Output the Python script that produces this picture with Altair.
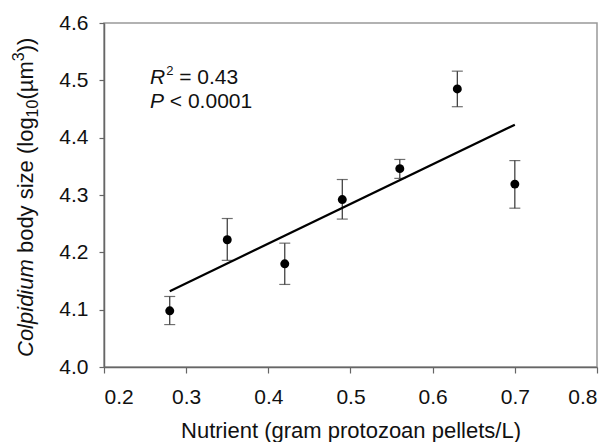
import altair as alt
import pandas as pd

# ---- data ----
nutrient = [0.28, 0.35, 0.42, 0.49, 0.56, 0.63, 0.70]
body_size = [4.098, 4.222, 4.180, 4.292, 4.346, 4.485, 4.319]
err_low = [4.074, 4.186, 4.144, 4.258, 4.329, 4.454, 4.277]
err_high = [4.123, 4.259, 4.216, 4.327, 4.362, 4.516, 4.360]

x_ticks = [0.2, 0.3, 0.4, 0.5, 0.6, 0.7, 0.8]
y_ticks = [4.0, 4.1, 4.2, 4.3, 4.4, 4.5, 4.6]

x_title = "Nutrient (gram protozoan pellets/L)"
# y-axis title segments: (text, role)
y_title_parts = [("Colpidium", "italic"), (" body size (log", "normal"),
                 ("10", "sub"), ("(µm", "normal"), ("3", "sup"), ("))", "normal")]
stat_line1 = [("R", "italic"), ("2", "sup"), (" = 0.43", "normal")]
stat_line2 = [("P", "italic"), (" < 0.0001", "normal")]

FONT = "Liberation Sans"
W, H = 493, 344
PL, PT = 104, 23

df = pd.DataFrame({"x": nutrient, "y": body_size, "lo": err_low, "hi": err_high})

# Arial advance widths (per 1000 em)
AW = {'C': 722, 'o': 556, 'l': 222, 'p': 556, 'i': 222, 'd': 556, 'u': 556, 'm': 833,
      ' ': 278, 'b': 556, 'y': 500, 's': 500, 'z': 500, 'e': 556, '(': 333, ')': 333,
      'g': 556, '1': 556, '0': 556, 'µ': 576, '3': 556, 'R': 722, '2': 556, '=': 584,
      '.': 278, '4': 556, 'P': 667, '<': 584}


def tw(s, size):
    return sum(AW.get(c, 556) for c in s) * size / 1000.0


base = alt.Chart(df)
xs = alt.X("x:Q", scale=alt.Scale(domain=[0.2, 0.8], nice=False, zero=False),
           axis=alt.Axis(values=x_ticks, format=".1f", title=x_title))
ys = alt.Y("y:Q", scale=alt.Scale(domain=[4.0, 4.6], nice=False, zero=False),
           axis=alt.Axis(values=y_ticks, format=".1f", title=None))

rules = base.mark_rule(color="#333", strokeWidth=1.2).encode(x=xs, y=alt.Y("lo:Q"), y2="hi:Q")
cap_lo = base.mark_tick(orient="horizontal", size=11, thickness=1.2, color="#333").encode(x="x:Q", y="lo:Q")
cap_hi = base.mark_tick(orient="horizontal", size=11, thickness=1.2, color="#333").encode(x="x:Q", y="hi:Q")
fit = base.transform_regression("x", "y").mark_line(color="black", strokeWidth=2.2).encode(x="x:Q", y="y:Q")
pts = base.mark_point(filled=True, color="black", size=80, opacity=1).encode(x=xs, y=ys)

layers = [rules, cap_lo, cap_hi, fit, pts]


def text_layer(s, x, y, size, style="normal", angle=0):
    kw = dict(font=FONT, fontSize=size, fontStyle=style, align="left",
              baseline="alphabetic", color="#111")
    if angle:
        kw["angle"] = angle
    return alt.Chart(alt.Data(values=[{}])).mark_text(**kw).encode(
        x=alt.value(x), y=alt.value(y), text=alt.value(s))


def lead(s, size):
    """width of leading spaces (rendered text is trimmed)"""
    n = len(s) - len(s.lstrip(" "))
    return tw(" " * n, size), s.lstrip(" ")


# rotated y-axis title
ys_cur = 357 - PT
bx = 33 - PL
big, small = 22, 16
for s, role in y_title_parts:
    if role in ("sub", "sup"):
        shift = 5 if role == "sub" else -9
        layers.append(text_layer(s, bx + shift, ys_cur, small, "normal", 270))
        ys_cur -= tw(s, small)
    else:
        g, t = lead(s, big)
        ys_cur -= g
        layers.append(text_layer(t, bx, ys_cur, big, "italic" if role == "italic" else "normal", 270))
        ys_cur -= tw(t, big)

# statistics annotation
for parts, base_y in ((stat_line1, 84 - PT), (stat_line2, 108 - PT)):
    cx = 150 - PL
    for s, role in parts:
        if role == "sup":
            layers.append(text_layer(s, cx + 1, base_y - 9, 13))
            cx += tw(s, 13) + 1
        else:
            g, t = lead(s, 21)
            cx += g
            layers.append(text_layer(t, cx, base_y, 21, "italic" if role == "italic" else "normal"))
            cx += tw(t, 21)

chart = alt.layer(*layers).properties(
    width=W, height=H,
    autosize=alt.AutoSizeParams(type="none"),
    padding={"left": PL, "top": PT, "right": 614 - PL - W, "bottom": 442 - PT - H},
    background="white",
).configure_view(stroke="#999", strokeWidth=1.5).configure_axis(
    grid=False, labelFont=FONT, titleFont=FONT, labelFontSize=21, titleFontSize=22,
    titleFontWeight="normal", labelColor="#111", titleColor="#111",
    domainColor="#666", domainWidth=1.5, tickColor="#666", tickWidth=1.2,
).configure_axisX(tickSize=6, labelPadding=13, titlePadding=13).configure_axisY(
    tickSize=5, labelPadding=11)

chart.save("out.html", embed_options={"renderer": "svg", "actions": False})
